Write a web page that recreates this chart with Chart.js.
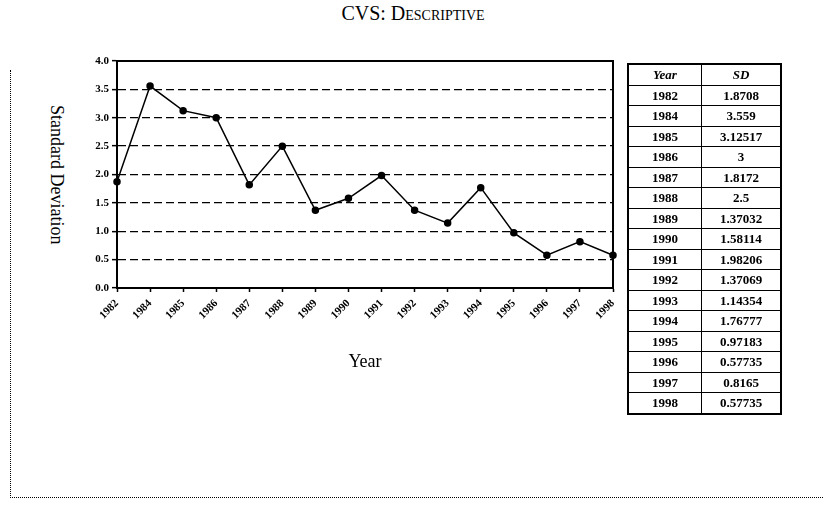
<!DOCTYPE html>
<html>
<head>
<meta charset="utf-8">
<script src="https://cdn.jsdelivr.net/npm/chart.js@4/dist/chart.umd.min.js"></script>
<style>
  body { margin: 0; background: #fff; }
  #wrap { position: relative; width: 824px; height: 508px; overflow: hidden; font-family: 'Liberation Serif', 'DejaVu Serif', serif; }
  #myChart { position: absolute; left: 0; top: 0; }
  #title { position: absolute; left: 0; top: 2px; width: 826px; text-align: center; font-size: 20px; font-variant: small-caps; }
  #ytitle { position: absolute; left: 46px; top: 95px; height: 160px; writing-mode: vertical-rl; text-align: center; font-size: 18px; }
  #frame { position: absolute; left: 10px; top: 70px; width: 830px; height: 427px; border-left: 1px dotted #000; border-bottom: 1px dotted #000; }
  #tbl { position: absolute; left: 627px; top: 63px; border-collapse: collapse; border: 2px solid #000; font-size: 13px; font-weight: bold; }
  #tbl td, #tbl th { border: 1px solid #000; height: 19.5px; padding: 0; text-align: center; line-height: 1; }
  #tbl th { font-style: italic; }
  #tbl td:first-child, #tbl th:first-child { width: 72px; }
  #tbl td:last-child, #tbl th:last-child { width: 78px; }
</style>
</head>
<body>
<div id="wrap">
  <div id="frame"></div>
  <div id="title">CVS: Descriptive</div>
  <div id="ytitle">Standard Deviation</div>
  <canvas id="myChart" width="824" height="508"></canvas>
  <table id="tbl"></table>
</div>
<script>
const years = ['1982', '1984', '1985', '1986', '1987', '1988', '1989', '1990', '1991', '1992', '1993', '1994', '1995', '1996', '1997', '1998'];
const sdValues = [1.8708, 3.559, 3.12517, 3, 1.8172, 2.5, 1.37032, 1.58114, 1.98206, 1.37069, 1.14354, 1.76777, 0.97183, 0.57735, 0.8165, 0.57735];
const sdText = ['1.8708', '3.559', '3.12517', '3', '1.8172', '2.5', '1.37032', '1.58114', '1.98206', '1.37069', '1.14354', '1.76777', '0.97183', '0.57735', '0.8165', '0.57735'];

// table on the right
const tbl = document.getElementById('tbl');
let html = '<tr><th>Year</th><th>SD</th></tr>';
years.forEach((y, i) => {
  html += '<tr><td>' + y + '</td><td>' + sdText[i] + '</td></tr>';
});
tbl.innerHTML = html;

const tickFont = { family: 'Liberation Serif', size: 11, weight: 'bold' };

// solid frame round the plot area
const frame = {
  id: 'frame',
  afterDatasetsDraw(chart) {
    const a = chart.chartArea;
    const ctx = chart.ctx;
    ctx.save();
    ctx.strokeStyle = '#000';
    ctx.lineWidth = 2;
    ctx.setLineDash([]);
    ctx.strokeRect(a.left, a.top, a.right - a.left, a.bottom - a.top);
    ctx.restore();
  }
};

new Chart(document.getElementById('myChart'), {
  type: 'line',
  data: {
    labels: years,
    datasets: [{
      data: sdValues,
      borderColor: '#000',
      backgroundColor: '#000',
      borderWidth: 1.5,
      pointRadius: 3,
      pointBackgroundColor: '#000',
      tension: 0
    }]
  },
  options: {
    responsive: false,
    animation: false,
    layout: { padding: { left: 77, right: 211, top: 61, bottom: 135 } },
    plugins: { legend: { display: false }, title: { display: false }, tooltip: { enabled: false } },
    scales: {
      x: {
        offset: false,
        afterFit(scale) { scale.height = 85; },
        grid: { drawOnChartArea: false, color: '#000', tickLength: 4, tickWidth: 1.5 },
        border: { color: '#000', width: 2 },
        ticks: { color: '#000', font: tickFont, minRotation: 45, maxRotation: 45, autoSkip: false, padding: 5 },
        title: { display: true, text: 'Year', color: '#000', font: { family: 'Liberation Serif', size: 18 }, padding: 0 }
      },
      y: {
        min: 0,
        max: 4,
        afterFit(scale) { scale.width = 40; },
        grid: { color: '#000', lineWidth: 1.3, tickLength: 5, tickBorderDash: [], tickWidth: 1.5 },
        border: { color: '#000', width: 2, dash: [8, 4] },
        ticks: { stepSize: 0.5, color: '#000', font: tickFont, padding: 3, callback: v => v.toFixed(1) }
      }
    }
  },
  plugins: [frame]
});
</script>
</body>
</html>
